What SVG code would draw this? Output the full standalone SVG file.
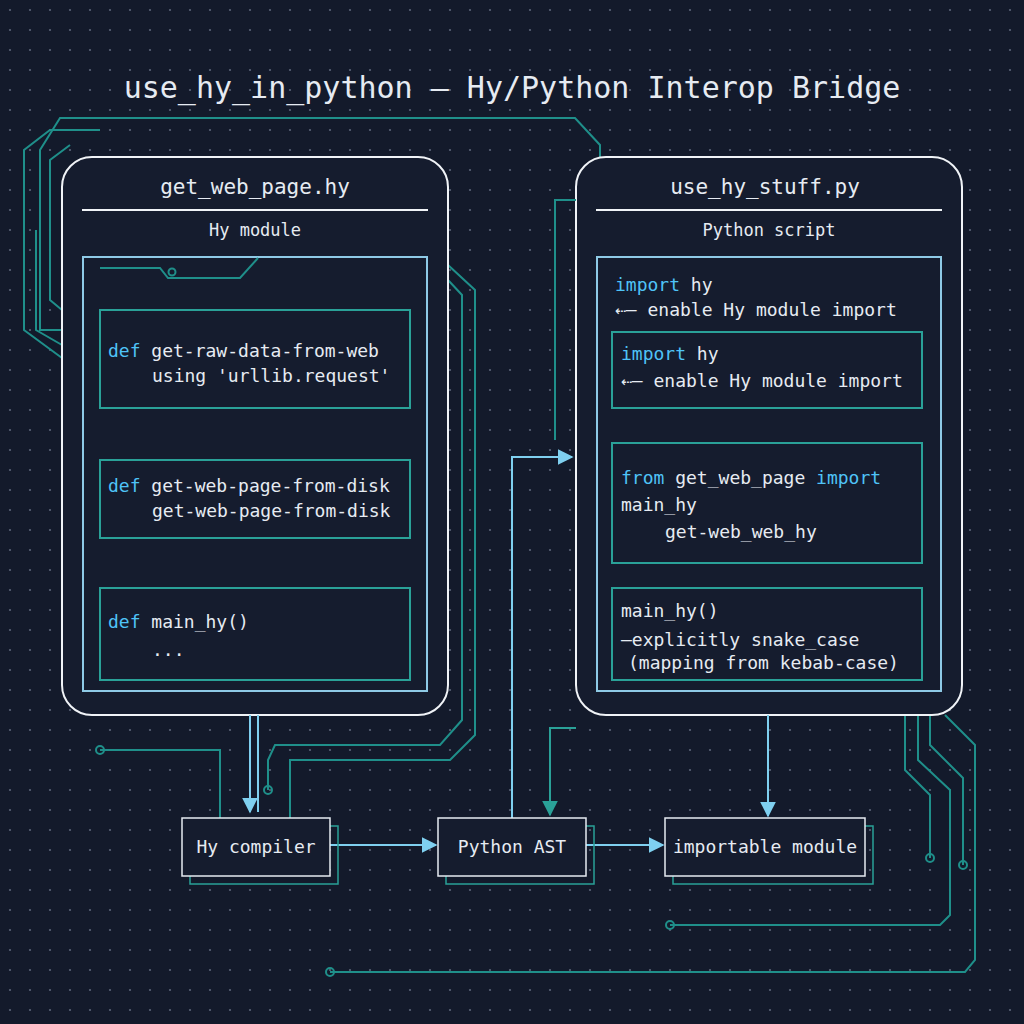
<svg xmlns="http://www.w3.org/2000/svg" width="1024" height="1024" viewBox="0 0 1024 1024">
<defs>
<pattern id="dots" width="20" height="20" patternUnits="userSpaceOnUse"><circle cx="10" cy="10" r="1.1" fill="#5a6478"/></pattern>
<marker id="ah" viewBox="0 0 10 10" refX="9" refY="5" markerWidth="8" markerHeight="8" orient="auto"><path d="M0,0 L10,5 L0,10 z" fill="#7fd0f0"/></marker>
<marker id="ahT" viewBox="0 0 10 10" refX="9" refY="5" markerWidth="8" markerHeight="8" orient="auto"><path d="M0,0 L10,5 L0,10 z" fill="#2aa198"/></marker>
<style>
text{font-family:"DejaVu Sans Mono","Liberation Mono",monospace;fill:#e6ebf2}
.title{font-size:30px}
.h{font-size:21px}
.s{font-size:17px}
.c{font-size:18px}
.k{fill:#4fc3f7}
.panel{fill:#151c2e;stroke:#f0f3f7;stroke-width:2}
.inner{fill:none;stroke:#8ecae6;stroke-width:2}
.box{fill:none;stroke:#2aa198;stroke-width:2}
.node{fill:#151c2e;stroke:#e6ebf2;stroke-width:1.5}
.shadow{fill:none;stroke:#2aa198;stroke-width:1.5}
.tr{fill:none;stroke:#1f8f8a;stroke-width:2}
.ar{fill:none;stroke:#7fd0f0;stroke-width:2}
.art{fill:none;stroke:#2aa198;stroke-width:2}
</style>
</defs>
<rect width="1024" height="1024" fill="#131a2b"/>
<rect width="1024" height="1024" fill="url(#dots)"/>
<text class="title" x="512" y="98" text-anchor="middle">use_hy_in_python — Hy/Python Interop Bridge</text>
<g id="traces">
<path class="tr" d="M62,330 L40,330 L40,150 L60,118 L575,118 L600,145 L600,157"/>
<path class="tr" d="M62,358 L24,330 L24,150 L50,130 L100,130"/>
<path class="tr" d="M62,310 L50,300 L50,160 L70,145"/>
<path class="tr" d="M36,230 L36,330 L62,345"/>
<path class="tr" d="M448,265 L475,290 L475,735 L450,760 L290,760 L290,818"/>
<path class="tr" d="M448,280 L462,295 L462,720 L440,745 L275,745 L268,760 L268,790"/>
<path class="tr" d="M100,750 L220,750 L220,818"/>
<path class="tr" d="M905,715 L905,770 L930,795 L930,858"/>
<path class="tr" d="M918,715 L918,760 L950,790 L950,915 L940,925 L670,925"/>
<path class="tr" d="M930,715 L930,745 L963,778 L963,865"/>
<path class="tr" d="M945,715 L975,745 L975,960 L965,972 L330,972"/>
</g>
<g id="left">
<rect class="panel" x="62" y="157" width="386" height="558" rx="30"/>
<text class="h" x="255" y="194" text-anchor="middle">get_web_page.hy</text>
<line x1="82" y1="210" x2="428" y2="210" stroke="#f0f3f7" stroke-width="2"/>
<text class="s" x="255" y="236" text-anchor="middle">Hy module</text>
<rect class="inner" x="83" y="257" width="344" height="434"/>
<path class="tr" d="M100,268 L160,268 L168,278 L240,278 L258,258"/>
<circle cx="172" cy="272" r="3.5" fill="none" stroke="#1f8f8a" stroke-width="2"/>
<rect class="box" x="100" y="310" width="310" height="98"/>
<text class="c" x="108" y="357"><tspan class="k">def</tspan> get-raw-data-from-web</text>
<text class="c" x="152" y="382">using 'urllib.request'</text>
<rect class="box" x="100" y="460" width="310" height="78"/>
<text class="c" x="108" y="492"><tspan class="k">def</tspan> get-web-page-from-disk</text>
<text class="c" x="152" y="517">get-web-page-from-disk</text>
<rect class="box" x="100" y="588" width="310" height="92"/>
<text class="c" x="108" y="628"><tspan class="k">def</tspan> main_hy()</text>
<text class="c" x="152" y="656">...</text>
</g>
<g id="right">
<rect class="panel" x="576" y="157" width="386" height="558" rx="30"/>
<text class="h" x="765" y="194" text-anchor="middle">use_hy_stuff.py</text>
<line x1="596" y1="210" x2="942" y2="210" stroke="#f0f3f7" stroke-width="2"/>
<text class="s" x="769" y="236" text-anchor="middle">Python script</text>
<rect class="inner" x="597" y="257" width="344" height="434"/>
<text class="c" x="615" y="291"><tspan class="k">import</tspan> hy</text>
<text class="c" x="615" y="316">⇠— enable Hy module import</text>
<rect class="box" x="612" y="332" width="310" height="76"/>
<text class="c" x="621" y="360"><tspan class="k">import</tspan> hy</text>
<text class="c" x="621" y="387">⇠— enable Hy module import</text>
<rect class="box" x="612" y="443" width="310" height="120"/>
<text class="c" x="621" y="484"><tspan class="k">from</tspan> get_web_page <tspan class="k">import</tspan></text>
<text class="c" x="621" y="511">main_hy</text>
<text class="c" x="665" y="538">get-web_web_hy</text>
<rect class="box" x="612" y="588" width="310" height="92"/>
<text class="c" x="621" y="617">main_hy()</text>
<text class="c" x="621" y="646">—explicitly snake_case</text>
<text class="c" x="628" y="669">(mapping from kebab-case)</text>
</g>
<g id="connectors">
<path class="ar" d="M250,715 L250,812" marker-end="url(#ah)"/>
<path class="ar" d="M258,715 L258,812"/>
<path class="ar" d="M330,845 L436,845" marker-end="url(#ah)"/>
<path class="ar" d="M586,845 L663,845" marker-end="url(#ah)"/>
<path class="ar" d="M768,715 L768,816" marker-end="url(#ah)"/>
<path class="ar" d="M512,818 L512,457 L572,457" marker-end="url(#ah)"/>
<path class="art" d="M576,728 L550,728 L550,815" marker-end="url(#ahT)"/>
<path class="tr" d="M576,200 L555,200 L555,440"/>
</g>
<g id="hycompiler">
<rect class="shadow" x="190" y="826" width="148" height="58"/>
<rect class="node" x="182" y="818" width="148" height="58"/>
<text class="c" x="256" y="853" text-anchor="middle">Hy compiler</text>
</g>
<g id="pythonast">
<rect class="shadow" x="446" y="826" width="148" height="58"/>
<rect class="node" x="438" y="818" width="148" height="58"/>
<text class="c" x="512" y="853" text-anchor="middle">Python AST</text>
</g>
<g id="importable">
<rect class="shadow" x="673" y="826" width="200" height="58"/>
<rect class="node" x="665" y="818" width="200" height="58"/>
<text class="c" x="765" y="853" text-anchor="middle">importable module</text>
</g>
<g id="dotsend" fill="none" stroke="#1f8f8a" stroke-width="2">
<circle cx="100" cy="750" r="4"/><circle cx="930" cy="858" r="4"/><circle cx="963" cy="865" r="4"/><circle cx="670" cy="925" r="4"/><circle cx="330" cy="972" r="4"/><circle cx="268" cy="790" r="4"/>
</g>
</svg>
